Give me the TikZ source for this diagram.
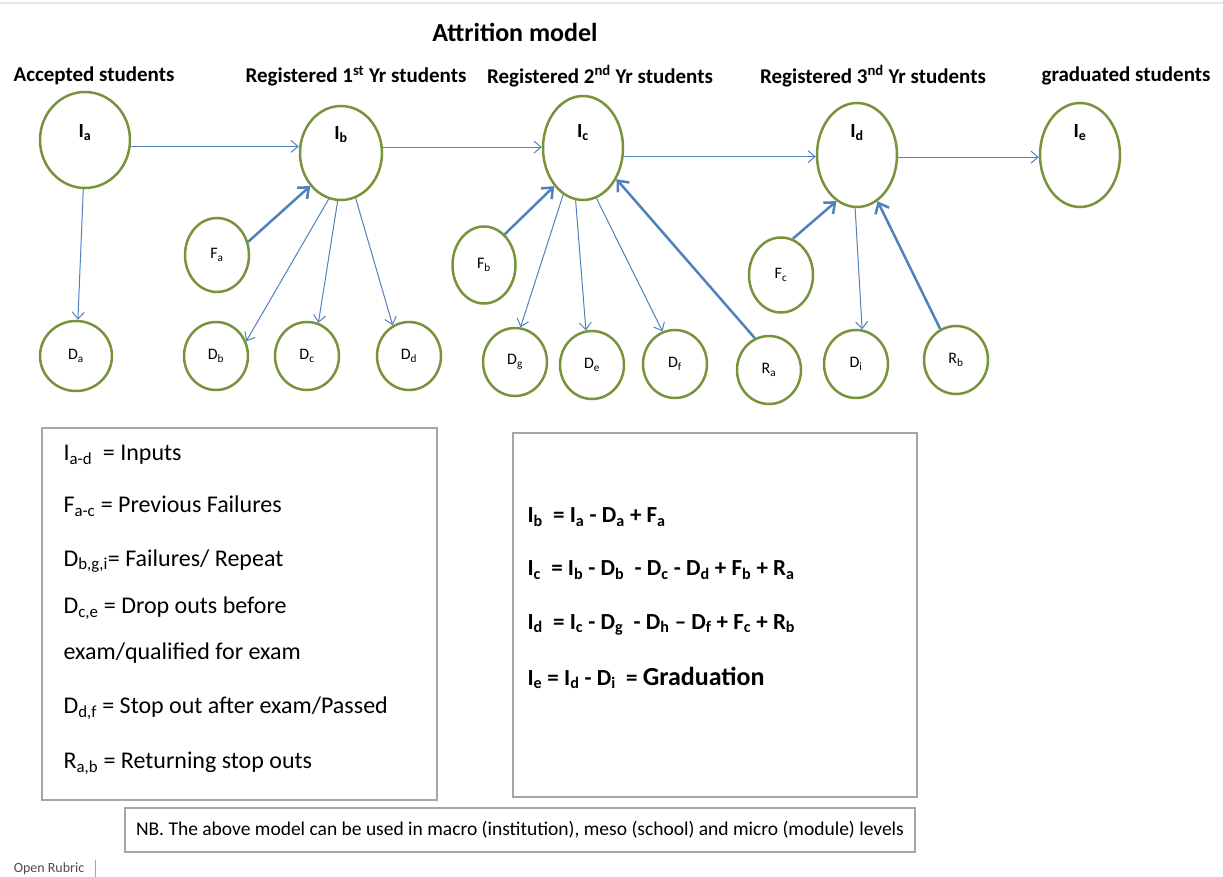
\documentclass[tikz,border=0pt]{standalone}
\usepackage{fontspec}
\setmainfont{Carlito}
\usetikzlibrary{arrows.meta,shapes.geometric,positioning}
\definecolor{ringgreen}{HTML}{77933C}
\definecolor{flowblue}{HTML}{4F81BD}
\definecolor{boxgray}{HTML}{A6A6A6}
\newcommand{\subs}[1]{\textsubscript{#1}}
\tikzset{
  instate/.style={ellipse, draw=ringgreen, line width=2.5pt, minimum width=80pt, minimum height=104pt, inner sep=0pt},
  substate/.style={ellipse, draw=ringgreen, line width=2.5pt, minimum width=64pt, minimum height=68pt, inner sep=0pt, font=\fontsize{16}{19}\selectfont},
  inlbl/.style={font=\bfseries\fontsize{20}{24}\selectfont},
  hdr/.style={font=\bfseries\fontsize{21}{25}\selectfont},
  flow/.style={->, draw=flowblue, line width=1pt},
  feed/.style={-{Straight Barb[length=9pt,width=15pt]}, draw=flowblue, line width=2.5pt},
  panel/.style={draw=boxgray, line width=1.2pt, inner sep=0pt},
  keytext/.style={anchor=west, font=\fontsize{24}{28}\selectfont},
  eqtext/.style={anchor=west, font=\bfseries\fontsize{23}{27}\selectfont}
}
\begin{document}
\begin{tikzpicture}[x=1pt, y=-1pt, >={Straight Barb[length=7pt,width=12pt]}]
  \useasboundingbox (0,0) rectangle (1223,877);
  \draw [gray!20, line width=2pt] (0,3) -- (1223,3);
  \node [hdr, font=\bfseries\fontsize{26}{30}\selectfont] (title) at (515,32) {Attrition model};
  \node [hdr] (hacc) at (94,76) {Accepted students};
  \node [hdr] (hyr1) at (356,76) {Registered 1\textsuperscript{st} Yr students};
  \node [hdr] (hyr2) at (600,76) {Registered 2\textsuperscript{nd} Yr students};
  \node [hdr] (hyr3) at (873,76) {Registered 3\textsuperscript{nd} Yr students};
  \node [hdr] (hgrad) at (1126,76) {graduated students};

  \node [instate, minimum width=90pt, minimum height=96pt, label={[inlbl, yshift=7pt]center:{I\subs{a}}}] (Ia) at (85,140) {};
  \node [instate, minimum width=82pt, minimum height=94pt, label={[inlbl, yshift=18pt]center:{I\subs{b}}}] (Ib) at (341,153) {};
  \node [instate, label={[inlbl, yshift=15pt]center:{I\subs{c}}}] (Ic) at (583,148) {};
  \node [instate, label={[inlbl, yshift=22pt]center:{I\subs{d}}}] (Id) at (857,155) {};
  \node [instate, label={[inlbl, yshift=22pt]center:{I\subs{e}}}] (Ie) at (1080,155) {};

  \node [substate, minimum width=72pt, minimum height=70pt] (Da) at (76,356) {D\subs{a}};
  \node [substate, minimum height=74pt] (Fa) at (217,255) {F\subs{a}};
  \node [substate] (Db) at (216,356) {D\subs{b}};
  \node [substate] (Dc) at (307,356) {D\subs{c}};
  \node [substate] (Dd) at (409,356) {D\subs{d}};
  \node [substate, minimum width=63pt, minimum height=77pt] (Fb) at (484,265) {F\subs{b}};
  \node [substate] (Dg) at (515,362) {D\subs{g}};
  \node [substate] (De) at (592,365) {D\subs{e}};
  \node [substate] (Df) at (675,364) {D\subs{f}};
  \node [substate] (Ra) at (769,370) {R\subs{a}};
  \node [substate, minimum height=75pt] (Fc) at (781,275) {F\subs{c}};
  \node [substate] (Di) at (856,364) {D\subs{i}};
  \node [substate] (Rb) at (956,360) {R\subs{b}};

  \draw [flow] (Ia.-8) -- (Ia.-8 -| Ib.west);
  \draw [flow] (Ib.8) -- (Ib.8 -| Ic.west);
  \draw [flow] (Ic.-12) -- (Ic.-12 -| Id.west);
  \draw [flow] (Id.-3) -- (Id.-3 -| Ie.west);
  \draw [flow] (Ia.-92) -- (Da.87);
  \draw [flow] (Ib.-105) -- (Db.26);
  \draw [flow] (Ib.-94) -- (Dc.71);
  \draw [flow] (Ib.-72) -- (Dd.118);
  \draw [flow] (Ic.-113) -- (Dg.81);
  \draw [flow] (Ic.-98) -- (De.100);
  \draw [flow] (Ic.-75) -- (Df.111);
  \draw [flow] (Id.-92) -- (Di.80);
  \draw [feed] (Fa.23) -- (Ib.-133);
  \draw [feed] (Fb.56) -- (Ic.-127);
  \draw [feed] (Ra.114) -- (Ic.-43);
  \draw [feed] (Fc.72) -- (Id.-114);
  \draw [feed] (Rb.117) -- (Id.-66);

  \node [panel, minimum width=395pt, minimum height=372pt] (keybox) at (239.5,614) {};
  \node [keytext] (k1) at (60,455) {I\subs{a-d} \ = Inputs};
  \node [keytext] (k2) at (60,506) {F\subs{a-c} = Previous Failures};
  \node [keytext] (k3) at (60,561) {D\subs{b,g,i}= Failures/ Repeat};
  \node [keytext] (k4) at (60,608) {D\subs{c,e} = Drop outs before};
  \node [keytext] (k5) at (60,653) {exam/qualified for exam};
  \node [keytext] (k6) at (60,708) {D\subs{d,f} = Stop out after exam/Passed};
  \node [keytext] (k7) at (60,763) {R\subs{a,b} = Returning stop outs};

  \node [panel, minimum width=404pt, minimum height=364pt] (eqbox) at (715,615) {};
  \node [eqtext] (e1) at (524,517) {I\subs{b} \ = I\subs{a} - D\subs{a} + F\subs{a}};
  \node [eqtext] (e2) at (524,570) {I\subs{c} \ = I\subs{b} - D\subs{b} \ - D\subs{c} - D\subs{d} + F\subs{b} + R\subs{a}};
  \node [eqtext] (e3) at (524,625) {I\subs{d} \ = I\subs{c} - D\subs{g} \ - D\subs{h} -- D\subs{f} + F\subs{c} + R\subs{b}};
  \node [eqtext] (e4) at (524,678) {I\subs{e} = I\subs{d} - D\subs{i} \ = {\fontsize{26}{30}\selectfont Graduation}};

  \node [panel, minimum width=790pt, minimum height=44pt, font=\fontsize{19.5}{22}\selectfont] (nbbox) at (520,830) {NB. The above model can be used in macro (institution), meso (school) and micro (module) levels};
  \node [font=\fontsize{14}{16}\selectfont, text=black!70] (rubric) at (49,869) {Open Rubric};
  \draw [boxgray, line width=1pt] (rubric.east) ++(8,-9) -- ++(0,18);
\end{tikzpicture}
\end{document}
